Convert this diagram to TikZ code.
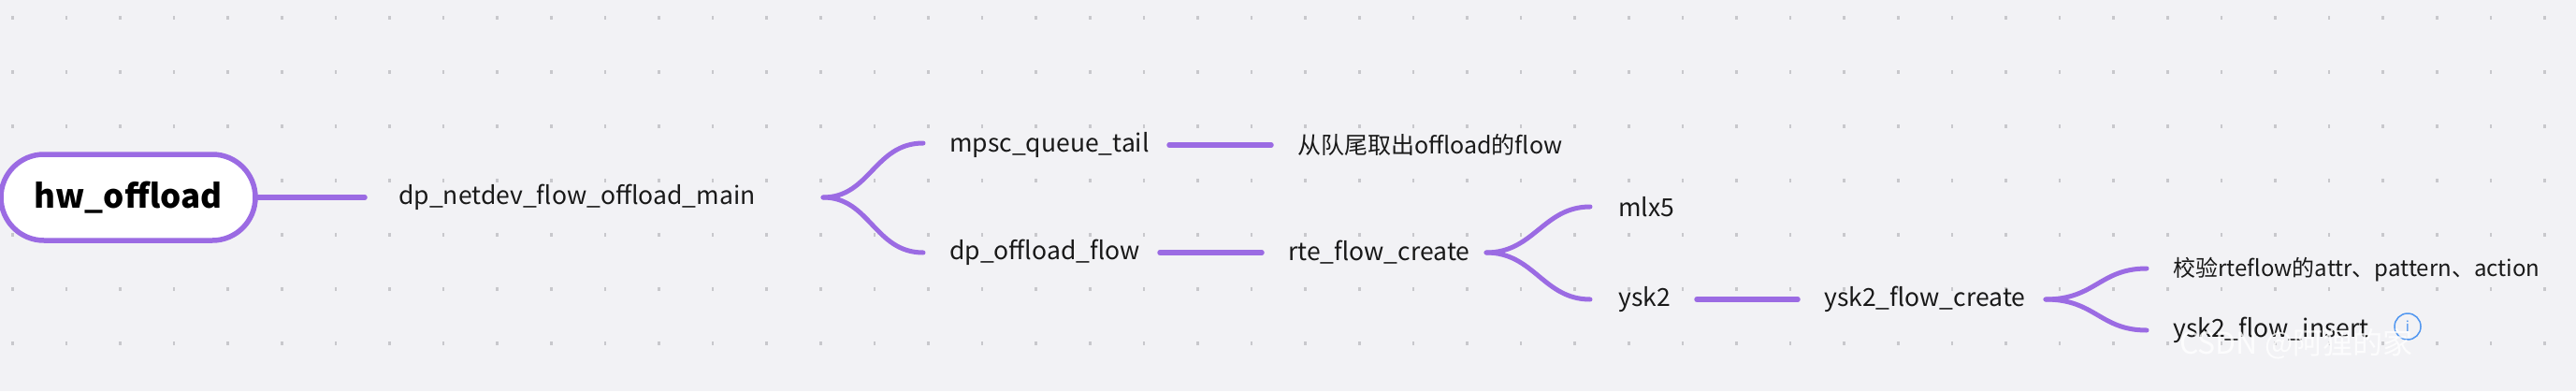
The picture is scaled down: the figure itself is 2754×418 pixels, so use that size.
\documentclass[tikz,border=0pt]{standalone}
\usepackage{fontspec}
\setmainfont{Noto Sans CJK SC}
\definecolor{bg}{HTML}{F2F2F5}
\definecolor{pu}{HTML}{9B6BE3}
\definecolor{dotc}{HTML}{C8C8CC}
\begin{document}
\begin{tikzpicture}[x=1pt,y=-1pt,
  lbl/.style={inner sep=0pt,anchor=west,font=\fontsize{26.5}{28}\selectfont,text=black!90},
  ln/.style={pu,line width=5.5pt,line cap=round},
  br/.style={pu,line width=5pt,line cap=round}]
\fill[bg] (0,0) rectangle (2754,418);
\useasboundingbox (0,0) rectangle (2754,418);
\foreach \i in {0,...,47}{\foreach \j in {0,...,7}{
  \fill[dotc] (13+57.6*\i-1,19+58*\j-2) rectangle ++(2.5,4);}}
\node[draw=pu,line width=5.5pt,fill=white,rounded corners=46pt,minimum width=272pt,minimum height=92pt,inner sep=0pt,font=\fontsize{35}{36}\selectfont\bfseries] (root) at (137,211) {hw\_offload};
\coordinate (r1) at (390,211);
\node[lbl] (main) at (426,211) {dp\_netdev\_flow\_offload\_main};
\coordinate (b1) at (880,211);
\coordinate (e1) at (987,153);
\coordinate (e2) at (987,270);
\node[lbl] (mpsc) at (1015,155) {mpsc\_queue\_tail};
\node[lbl,font=\fontsize{25}{27}\selectfont] (take) at (1387,155) {从队尾取出offload的flow};
\node[lbl] (dpo) at (1015,270) {dp\_offload\_flow};
\node[lbl] (rte) at (1377,270) {rte\_flow\_create};
\coordinate (b2) at (1589,270);
\coordinate (e3) at (1700,221);
\coordinate (e4) at (1700,320);
\node[lbl] (mlx) at (1730,221) {mlx5};
\node[lbl] (ysk) at (1730,320) {ysk2};
\node[lbl] (yfc) at (1950,320) {ysk2\_flow\_create};
\coordinate (b3) at (2187,320);
\coordinate (e5) at (2295,287);
\coordinate (e6) at (2295,353);
\node[lbl,font=\fontsize{24}{26}\selectfont] (chk) at (2323,288) {校验rteflow的attr、pattern、action};
\node[lbl] (ins) at (2323,353) {ysk2\_flow\_insert};
\node[draw={rgb,255:red,80;green,150;blue,240},line width=1.5pt,circle,minimum size=28pt,inner sep=0pt,font=\fontsize{15}{15}\selectfont,text={rgb,255:red,80;green,150;blue,240}] (info) at (2574,349) {i};

\draw[ln] (root.east) -- (r1);
\draw[br] (b1) .. controls (930,211) and (935,153) .. (e1);
\draw[br] (b1) .. controls (930,211) and (935,270) .. (e2);
\draw[ln] (1250,155) coordinate (m1) -- (1359,155) coordinate (m2);
\draw[ln] (1240,270) coordinate (d1) -- (1349,270) coordinate (d2);
\draw[br] (b2) .. controls (1640,270) and (1650,221) .. (e3);
\draw[br] (b2) .. controls (1640,270) and (1650,320) .. (e4);
\draw[ln] (1814,320) coordinate (y1) -- (1922,320) coordinate (y2);
\draw[br] (b3) .. controls (2240,320) and (2245,287) .. (e5);
\draw[br] (b3) .. controls (2240,320) and (2245,353) .. (e6);
\node[inner sep=0pt,anchor=west,font=\fontsize{32}{34}\selectfont,text=white,opacity=0.8] (wm) at (2330,368) {CSDN @阿狸的家};
\end{tikzpicture}
\end{document}
